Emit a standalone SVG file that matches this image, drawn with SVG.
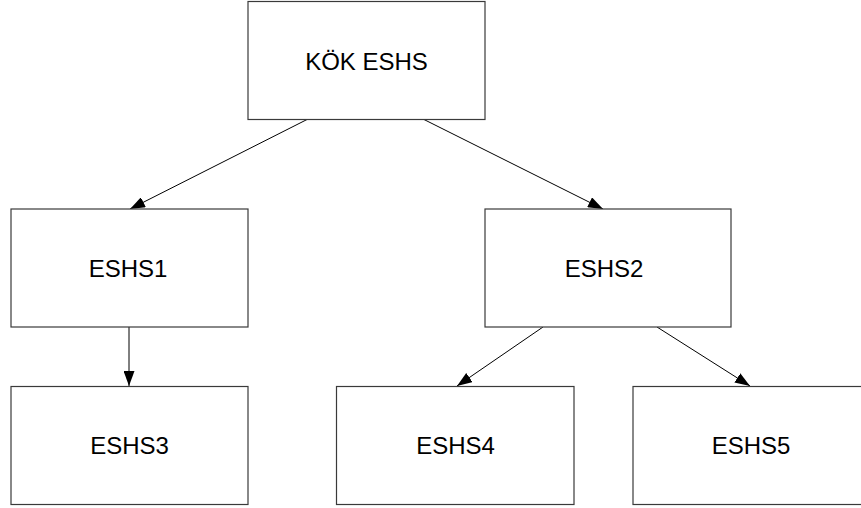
<svg xmlns="http://www.w3.org/2000/svg" width="861" height="508" viewBox="0 0 861 508">
  <style>
    .box { fill: #ffffff; stroke: #3a3a3a; stroke-width: 1.2; }
    .label { font-family: "Liberation Sans", Arial, sans-serif; font-size: 24px; fill: #000000; text-anchor: middle; }
    .edge { stroke: #000000; stroke-width: 1; fill: none; marker-end: url(#arrow); }
  </style>
  <defs>
    <marker id="arrow" viewBox="0 0 15 11" refX="15" refY="5.5" markerWidth="15" markerHeight="11" markerUnits="userSpaceOnUse" orient="auto">
      <path d="M0,0 L15,5.5 L0,11 Z" fill="#000000"/>
    </marker>
  </defs>
  <rect width="861" height="508" fill="#ffffff"/>

  <!-- parent-to-child arrows -->
  <g id="connectors">
    <line class="edge" x1="308" y1="119" x2="130" y2="209"/>
    <line class="edge" x1="423" y1="119" x2="603" y2="209"/>
    <line class="edge" x1="129" y1="327" x2="129" y2="386"/>
    <line class="edge" x1="543" y1="327" x2="457" y2="386"/>
    <line class="edge" x1="657" y1="327" x2="750" y2="386"/>
  </g>

  <g id="root">
    <rect class="box" x="248" y="1.5" width="237" height="118"/>
    <text class="label" x="366.5" y="69.5">KÖK ESHS</text>
  </g>
  <g id="eshs1">
    <rect class="box" x="11" y="209" width="237" height="118"/>
    <text class="label" x="128" y="277">ESHS1</text>
  </g>
  <g id="eshs2">
    <rect class="box" x="485" y="209" width="246" height="118"/>
    <text class="label" x="604" y="277">ESHS2</text>
  </g>
  <g id="eshs3">
    <rect class="box" x="11" y="386.5" width="237" height="118"/>
    <text class="label" x="129.5" y="454">ESHS3</text>
  </g>
  <g id="eshs4">
    <rect class="box" x="336.5" y="386.5" width="237.5" height="118"/>
    <text class="label" x="455.5" y="454">ESHS4</text>
  </g>
  <g id="eshs5">
    <rect class="box" x="633" y="386.5" width="240" height="118"/>
    <text class="label" x="751" y="454">ESHS5</text>
  </g>
</svg>
